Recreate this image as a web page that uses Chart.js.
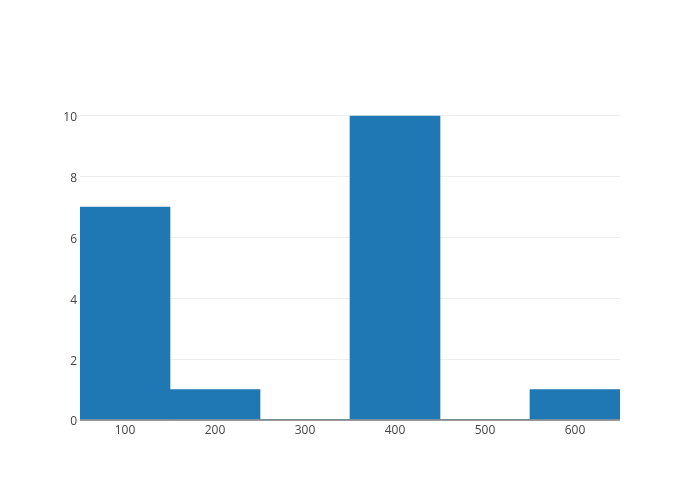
<!DOCTYPE html>
<html>
<head>
<script src="https://cdn.jsdelivr.net/npm/chart.js@4.4.0/dist/chart.umd.min.js"></script>
<style>
  body { margin: 0; background: #fff; }
  #wrap { width: 700px; height: 500px; }
</style>
</head>
<body>
<div id="wrap"><canvas id="hist" width="700" height="500"></canvas></div>
<script>
var binLabels = ['100', '200', '300', '400', '500', '600'];
var counts = [7, 1, 0, 10, 0, 1];
var yTicks = [0, 2, 4, 6, 8, 10];
var yMax = 10.526;

Chart.defaults.font.family = '"Open Sans", sans-serif';
Chart.defaults.font.size = 12;
Chart.defaults.color = '#444';

var ctx = document.getElementById('hist').getContext('2d');
new Chart(ctx, {
    type: 'bar',
    data: {
        labels: binLabels,
        datasets: [{
            data: counts,
            backgroundColor: '#1f77b4',
            barPercentage: 1,
            categoryPercentage: 1,
            borderWidth: 0
        }]
    },
    options: {
        responsive: false,
        animation: false,
        layout: { padding: { left: 0, top: 100, right: 80, bottom: 0 } },
        plugins: { legend: { display: false }, tooltip: { enabled: false } },
        scales: {
            x: {
                grid: { display: false, drawTicks: false },
                border: { display: false },
                ticks: { padding: 3, maxRotation: 0 },
                afterFit: function(s) { s.height = 80; }
            },
            y: {
                min: 0,
                max: yMax,
                grid: {
                    drawTicks: false,
                    color: function(c) { return c.tick && c.tick.value === 0 ? '#999' : '#eee'; },
                    lineWidth: function(c) { return c.tick && c.tick.value === 0 ? 2 : 1; }
                },
                border: { display: false },
                ticks: { padding: 3, labelOffset: 2 },
                afterBuildTicks: function(s) { s.ticks = yTicks.map(function(v) { return { value: v }; }); },
                afterFit: function(s) { s.width = 80; }
            }
        }
    }
});
</script>
</body>
</html>
